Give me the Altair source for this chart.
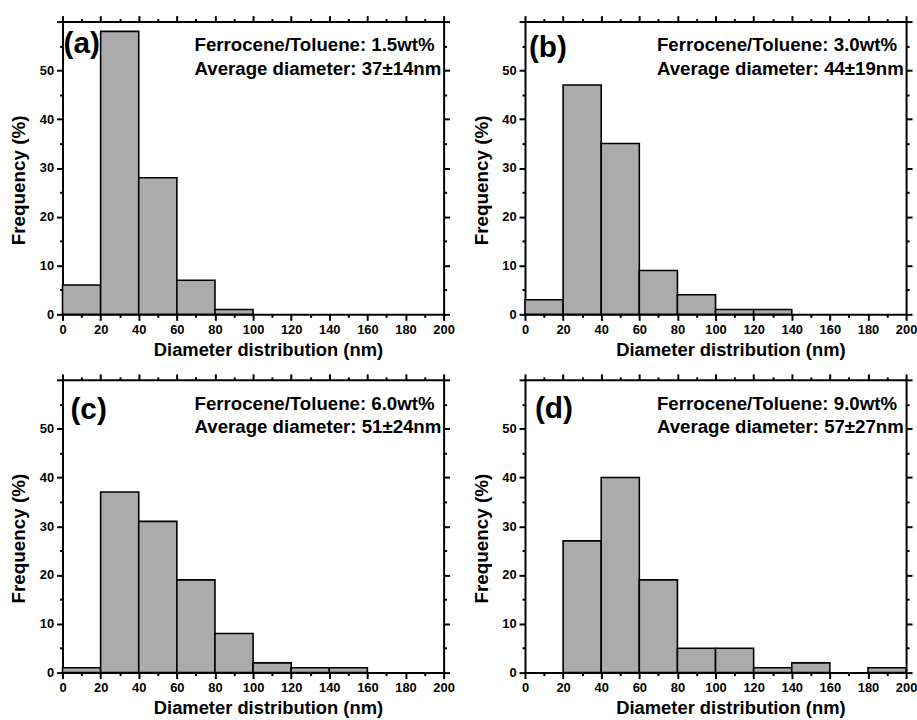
import altair as alt
import pandas as pd

# ---- data ----
bin_starts = [0, 20, 40, 60, 80, 100, 120, 140, 160, 180]
bin_ends = [20, 40, 60, 80, 100, 120, 140, 160, 180, 200]
freq_a = [6, 58, 28, 7, 1, 0, 0, 0, 0, 0]
freq_b = [3, 47, 35, 9, 4, 1, 1, 0, 0, 0]
freq_c = [1, 37, 31, 19, 8, 2, 1, 1, 0, 0]
freq_d = [0, 27, 40, 19, 5, 5, 1, 2, 0, 1]

panel_tags = ["(a)", "(b)", "(c)", "(d)"]
conc_labels = ["Ferrocene/Toluene: 1.5wt%", "Ferrocene/Toluene: 3.0wt%",
               "Ferrocene/Toluene: 6.0wt%", "Ferrocene/Toluene: 9.0wt%"]
avg_labels = ["Average diameter: 37±14nm", "Average diameter: 44±19nm",
              "Average diameter: 51±24nm", "Average diameter: 57±27nm"]

x_title = "Diameter distribution (nm)"
y_title = "Frequency (%)"
x_ticks = list(range(0, 201, 10))
y_ticks = list(range(0, 61, 5))

# ---- style ----
W, H = 384, 295
FONT = "Liberation Sans"
BAR_FILL = "#ababab"
tag_dx = [1, 4, 8, 10]
tag_dy = [32, 36, 39, 38]


def panel(freqs, i):
    df = pd.DataFrame({"start": bin_starts, "end": bin_ends, "freq": freqs})
    xs = alt.Scale(domain=[0, 200], nice=False, zero=False, padding=0)
    ys = alt.Scale(domain=[0, 60], nice=False, padding=0)
    xtick = {"condition": {"test": "datum.value % 20 === 0", "value": 6}, "value": 3}
    ytick = {"condition": {"test": "datum.value % 10 === 0", "value": 6}, "value": 3}

    x_bottom = alt.Axis(orient="bottom", values=x_ticks,
                        labelExpr="datum.value % 20 === 0 ? datum.label : ''",
                        tickSize=xtick, labelPadding=3, labelFlush=False,
                        labelOverlap=False, title=x_title, titleFontSize=18.5,
                        titleX=W / 2 + 15, titleY=41, titleBaseline="alphabetic")
    y_left = alt.Axis(orient="left", values=y_ticks,
                      labelExpr="datum.value % 10 === 0 && datum.value < 60 ? datum.label : ''",
                      tickSize=ytick, labelPadding=3, labelFlush=False,
                      labelOverlap=False, title=y_title, titleFontSize=19,
                      titleX=-38, titleY=H / 2 + 12, titleBaseline="alphabetic")
    x_top = alt.Axis(orient="top", values=x_ticks, labels=False, tickSize=xtick, title=None)
    y_right = alt.Axis(orient="right", values=y_ticks, labels=False, tickSize=ytick, title=None)

    base = alt.Chart(df).transform_filter("datum.freq > 0")
    bars = base.mark_rect(fill=BAR_FILL, stroke="black", strokeWidth=1.6).encode(
        x=alt.X("start:Q", scale=xs, axis=x_bottom),
        x2="end:Q",
        y=alt.Y("freq:Q", scale=ys, axis=y_left),
        y2=alt.datum(0),
    )
    ghost = base.mark_rect(opacity=0).encode(
        x=alt.X("start:Q", scale=xs, axis=x_top),
        x2="end:Q",
        y=alt.Y("freq:Q", scale=ys, axis=y_right),
        y2=alt.datum(0),
    )
    tag = alt.Chart(pd.DataFrame({"t": [panel_tags[i]]})).mark_text(
        font=FONT, fontWeight="bold", fontSize=30, align="left", baseline="alphabetic",
        color="black").encode(text="t:N", x=alt.value(tag_dx[i]), y=alt.value(tag_dy[i]))
    conc = alt.Chart(pd.DataFrame({"t": [conc_labels[i]]})).mark_text(
        font=FONT, fontWeight="bold", fontSize=18.8, align="left", baseline="alphabetic",
        color="black").encode(text="t:N", x=alt.value(133), y=alt.value(30))
    avg = alt.Chart(pd.DataFrame({"t": [avg_labels[i]]})).mark_text(
        font=FONT, fontWeight="bold", fontSize=18.8, align="left", baseline="alphabetic",
        color="black").encode(text="t:N", x=alt.value(133), y=alt.value(54))
    return alt.layer(bars, ghost, tag, conc, avg).resolve_axis(
        x="independent", y="independent").properties(width=W, height=H)


top = alt.hconcat(panel(freq_a, 0), panel(freq_b, 1), spacing=18)
bottom = alt.hconcat(panel(freq_c, 2), panel(freq_d, 3), spacing=18)
chart = alt.vconcat(top, bottom, spacing=14).properties(
    padding={"left": 10, "top": 12, "right": 0, "bottom": 0},
    background="white",
).configure_view(stroke=None).configure_axis(
    grid=False,
    domainColor="black", domainWidth=2,
    tickColor="black", tickWidth=2,
    labelFont=FONT, labelFontWeight="bold", labelFontSize=13, labelColor="black",
    titleFont=FONT, titleFontWeight="bold", titleColor="black",
)

chart.save("out.html", embed_options={"renderer": "svg", "actions": False})
